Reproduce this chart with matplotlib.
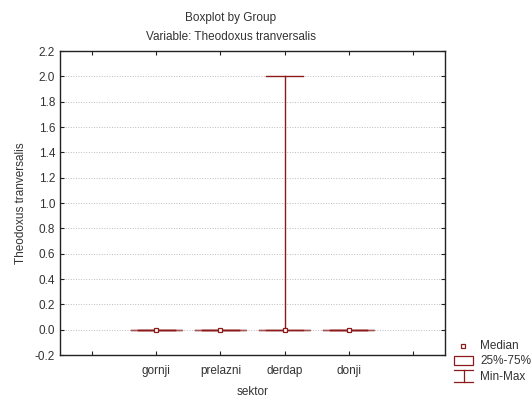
import numpy as np
import matplotlib.pyplot as plt
from matplotlib.lines import Line2D
from matplotlib.patches import Rectangle

plt.rcParams['font.family'] = ['Liberation Sans', 'DejaVu Sans']

# Group statistics
groups = ['gornji', 'prelazni', 'derdap', 'donji']
medians = [0.0, 0.0, 0.0, 0.0]
q1 = [0.0, 0.0, 0.0, 0.0]
q3 = [0.0, 0.0, 0.0, 0.0]
mins = [0.0, 0.0, 0.0, 0.0]
maxs = [0.0, 0.0, 2.0, 0.0]
yticks = [-0.2, 0.0, 0.2, 0.4, 0.6, 0.8, 1.0, 1.2, 1.4, 1.6, 1.8, 2.0, 2.2]

col = '#8b1a1a'
fs = 8.5

fig = plt.figure(figsize=(5.32, 3.99), dpi=100)
ax = fig.add_axes([60 / 532, 1 - 355 / 399, 385 / 532, 304 / 399])

stats = []
for i, g in enumerate(groups):
    stats.append(dict(label=g, med=medians[i], q1=q1[i], q3=q3[i],
                      whislo=mins[i], whishi=maxs[i], fliers=[]))
pos = np.arange(2, 2 + len(groups))
ax.bxp(stats, positions=pos, widths=0.8, showfliers=False,
       boxprops=dict(color=col, lw=1.0, alpha=0.7),
       whiskerprops=dict(color=col, lw=1.0),
       capprops=dict(color=col, lw=1.0),
       capwidths=0.57,
       medianprops=dict(lw=0))
ax.plot(pos, medians, 's', ms=3.5, mfc='white', mec=col, mew=0.9, zorder=5)

ax.set_xlim(0.5, 6.5)
ax.set_ylim(-0.2, 2.2)
ax.set_xticks(np.arange(1, 7))
ax.set_xticklabels([''] + groups + [''])
ax.set_yticks(yticks)
ax.set_yticklabels([f'{v:.1f}' for v in yticks])
ax.tick_params(direction='in', top=True, right=True, length=3, width=0.8,
               labelsize=fs, colors='#222222', labelcolor='#333333')
ax.tick_params(axis='x', pad=7)
ax.grid(axis='y', color='#bbbbbb', ls=':', lw=0.7)
ax.set_axisbelow(True)
for s in ax.spines.values():
    s.set_color('#222222')
    s.set_linewidth(1.0)

ax.set_xlabel('sektor', fontsize=fs, color='#333333', labelpad=7)
ax.set_ylabel('Theodoxus tranversalis', fontsize=fs, color='#333333', labelpad=6)
fig.text(231 / 532, 1 - 18 / 399, 'Boxplot by Group', ha='center', va='center',
         fontsize=fs, color='#333333')
fig.text(231 / 532, 1 - 37 / 399, 'Variable: Theodoxus tranversalis', ha='center',
         va='center', fontsize=fs, color='#333333')

# legend drawn in figure coordinates
def fx(px):
    return px / 532

def fy(py):
    return 1 - py / 399

fig.add_artist(Line2D([fx(463)], [fy(346)], marker='s', ms=3.5, mfc='white',
                      mec=col, mew=0.9, transform=fig.transFigure))
fig.text(fx(480), fy(346), 'Median', va='center', fontsize=fs, color='#333333')
fig.add_artist(Rectangle((fx(454), fy(365)), fx(19), 9 / 399, fill=False,
                         ec=col, lw=0.9, transform=fig.transFigure))
fig.text(fx(480), fy(361), '25%-75%', va='center', fontsize=fs, color='#333333')
fig.add_artist(Line2D([fx(454), fx(473)], [fy(370), fy(370)], color=col, lw=0.9,
                      transform=fig.transFigure))
fig.add_artist(Line2D([fx(463.5), fx(463.5)], [fy(370), fy(382)], color=col, lw=0.9,
                      transform=fig.transFigure))
fig.add_artist(Line2D([fx(454), fx(473)], [fy(382), fy(382)], color=col, lw=0.9,
                      transform=fig.transFigure))
fig.text(fx(480), fy(377), 'Min-Max', va='center', fontsize=fs, color='#333333')

fig.savefig('out.png', dpi=100)
